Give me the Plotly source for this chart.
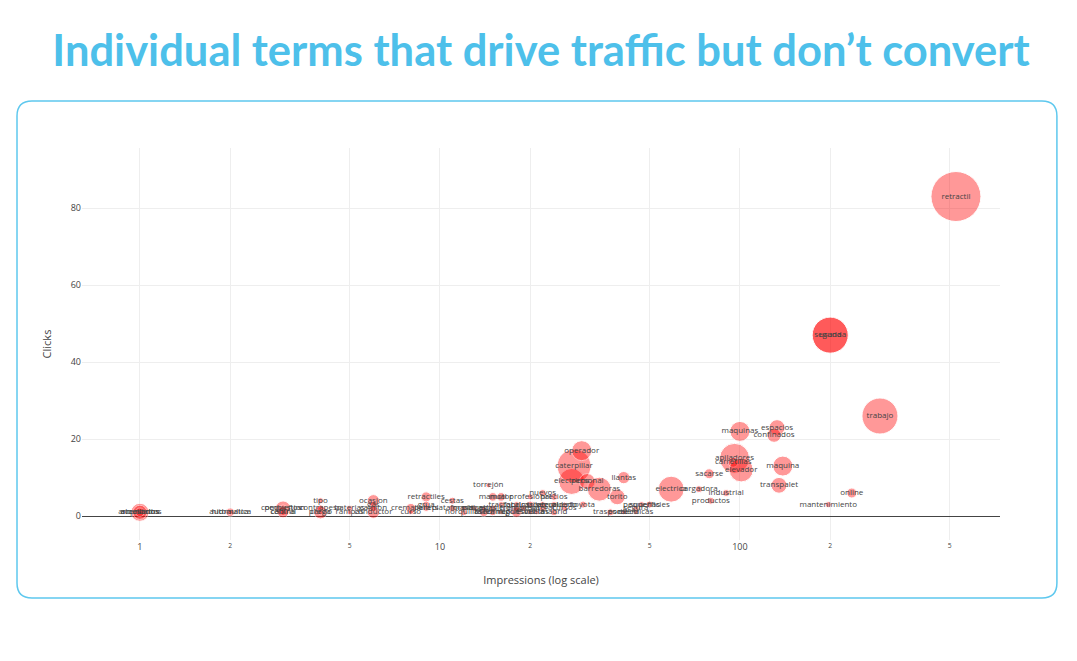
import plotly.graph_objects as go

# search terms with impressions, clicks and spend (bubble size)
terms = [
    "alquilados", "arrendados", "accesorios",
    "automatica", "hidraulica",
    "pequeños", "combustion", "central", "cabina",
    "tipo", "precio", "contrapeso", "carga",
    "baterias", "rampas",
    "ocasion", "gas", "conductor", "camion",
    "cremallera", "curso",
    "retractiles", "grua", "pallets",
    "cestas", "plataforma", "horquillas", "mastil",
    "torrejón", "taller", "ruedas",
    "manual", "alquiler", "mecanico",
    "motor", "tractor", "hormigon", "pinzas",
    "repuestos", "fabrica", "frontales", "empresa",
    "profesional", "almacen", "escuela", "ventas",
    "nuevos", "lateral", "trilateral",
    "precios", "madrid", "seguridad",
    "puerto", "cursos", "toyota",
    "electricos", "caterpillar", "operador", "personal", "barredoras",
    "torito", "trasporte", "escalera", "llantas",
    "segura", "electricas", "pequeñas", "superficies",
    "electrica", "cargadora", "sacarse", "productos", "industrial",
    "apiladores", "carretillas", "elevador", "maquinas",
    "espacios", "confinados", "maquina", "transpalet",
    "mantenimiento", "segunda", "usada", "online", "trabajo", "retractil",
]
impressions = [
    1, 1, 1,
    2, 2,
    3, 3, 3, 3,
    4, 4, 4, 4,
    5, 5,
    6, 6, 6, 6,
    8, 8,
    9, 9, 9,
    11, 11, 12, 12,
    14.5, 14, 14,
    15, 15, 15,
    16, 16, 16, 13,
    18, 18, 18, 19,
    20, 20, 20, 21,
    22, 22, 22,
    24, 24, 24,
    26, 26, 30,
    27.5, 28, 29.7, 31, 34,
    39, 37, 41, 41,
    45, 45, 47, 50,
    59, 73, 79, 80, 90,
    96, 95, 101, 100,
    133, 130, 139, 135,
    197, 200, 200, 236, 293, 525,
]
clicks = [
    1, 1, 1,
    1, 1,
    2, 2, 1, 1,
    4, 1, 2, 1,
    2, 1,
    4, 3, 1, 2,
    2, 1,
    5, 3, 2,
    4, 2, 1, 2,
    8, 1, 2,
    5, 2, 1,
    5, 3, 1, 2,
    1, 3, 2, 2,
    5, 3, 1, 1,
    6, 2, 3,
    5, 1, 3,
    3, 2, 3,
    9, 13, 17, 9, 7,
    5, 1, 1, 10,
    2, 1, 3, 3,
    7, 7, 11, 4, 6,
    15, 14, 12, 22,
    23, 21, 13, 8,
    3, 47, 47, 6, 26, 83,
]
spend = [
    13, 8, 3,
    3, 1,
    9, 2, 5, 1.5,
    1.5, 7, 2, 1,
    1.5, 1,
    6, 2, 6, 2,
    4, 1,
    4, 2, 1.5,
    2, 2, 2, 1,
    1, 3, 1,
    3, 2, 2,
    3, 1.5, 1, 1.5,
    4, 1.5, 2, 1.5,
    1.5, 2, 1, 1,
    2, 2, 1.5,
    2, 2, 1.5,
    1, 1.5, 2,
    27, 46, 16, 10, 23,
    10, 2, 1, 6,
    1.5, 1, 1.5, 2,
    27, 2, 4, 2, 2,
    36, 4, 23, 16,
    10, 8, 16, 10,
    1.5, 52, 52, 4, 52, 100,
]

fig = go.Figure()
fig.add_trace(go.Scatter(
    x=impressions, y=clicks, text=terms,
    mode="markers+text", textposition="middle center",
    textfont=dict(family="Open Sans", size=8, color="#444"),
    marker=dict(color="red", opacity=0.4, size=spend, sizemode="area",
                sizeref=2.0 * max(spend) / (50 ** 2),
                line=dict(color="white", width=1)),
    hoverinfo="text+x+y",
))

# rounded border around the chart (paper coords)
x0, x1, y0, y1 = -0.0708, 1.062, -0.148, 1.12
rx, ry = 0.0163, 0.0383
border = (f"M {x0 + rx} {y0} L {x1 - rx} {y0} Q {x1} {y0} {x1} {y0 + ry} "
          f"L {x1} {y1 - ry} Q {x1} {y1} {x1 - rx} {y1} "
          f"L {x0 + rx} {y1} Q {x0} {y1} {x0} {y1 - ry} "
          f"L {x0} {y0 + ry} Q {x0} {y0} {x0 + rx} {y0} Z")

fig.update_layout(
    width=1077, height=661,
    margin=dict(l=74, r=85, t=140, b=129),
    paper_bgcolor="white", plot_bgcolor="white",
    showlegend=False,
    font=dict(family="Open Sans", color="#444"),
    title=dict(text="Individual terms that drive traffic but don\u2019t convert",
               x=0.5, xref="paper", y=0.936, yanchor="middle",
               font=dict(family="Lato", size=43.5, weight="bold", color="#4dc0ea")),
    shapes=[dict(type="path", path=border, xref="paper", yref="paper",
                 line=dict(color="#5ec8ee", width=1.5), layer="below")],
    xaxis=dict(type="log", range=[-0.193, 2.867],
               title=dict(text="Impressions (log scale)", font=dict(size=11),
                          standoff=24),
               tickfont=dict(size=9), gridcolor="#eee", showline=False,
               zeroline=False),
    yaxis=dict(range=[-6.2, 95.6], dtick=20,
               title=dict(text="Clicks", font=dict(size=11), standoff=16),
               tickfont=dict(size=9), gridcolor="#eee",
               zeroline=True, zerolinecolor="#444", zerolinewidth=1),
)

fig.write_html("out.html")
